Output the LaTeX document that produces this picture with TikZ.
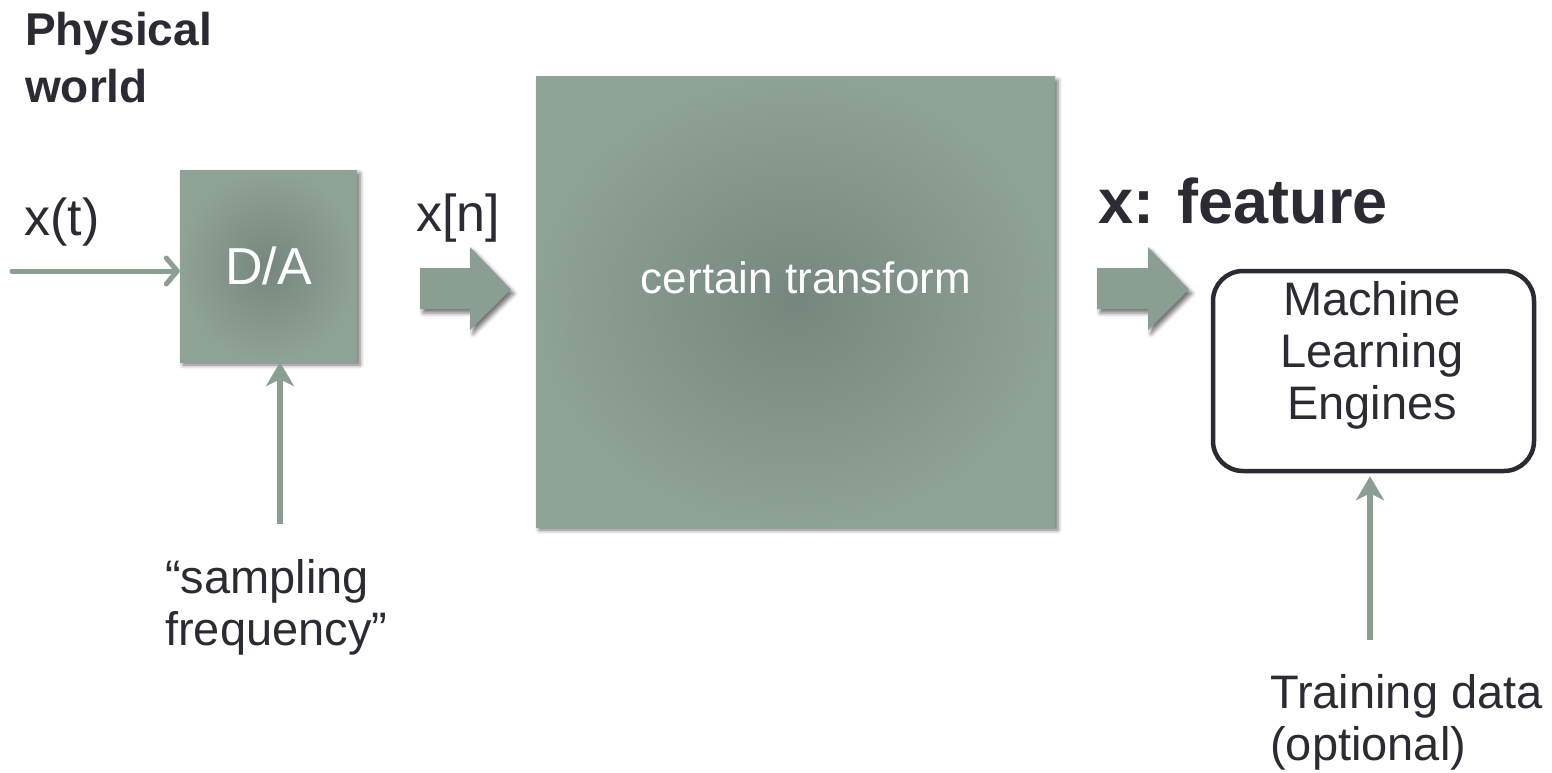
\documentclass[tikz,border=0pt]{standalone}
\usepackage{fontspec}
\setmainfont{Liberation Sans}
\usetikzlibrary{arrows.meta,shadows.blur}

\definecolor{flowgreen}{RGB}{138,158,145}
\definecolor{boxinner}{RGB}{118,136,125}
\definecolor{boxouter}{RGB}{143,162,150}
\definecolor{inkdark}{RGB}{43,43,51}

\tikzset{
  body/.style={font=\fontsize{47}{52}\selectfont, text=inkdark, inner sep=0pt},
  symbol/.style={font=\fontsize{52}{58}\selectfont, text=inkdark, inner sep=0pt},
  heading/.style={font=\bfseries\fontsize{46}{58}\selectfont, text=inkdark, inner sep=0pt},
  shadedbox/.style={draw=none, shade, inner color=boxinner, outer color=boxouter,
    blur shadow={shadow xshift=3pt, shadow yshift=-3pt, shadow blur radius=4pt, shadow opacity=55},
    text=white, font=\fontsize{52}{58}\selectfont, inner sep=0pt},
  engine/.style={draw=inkdark, line width=4.5pt, rounded corners=30pt, fill=white,
    inner sep=0pt},
  thinflow/.style={draw=flowgreen, line width=5pt, line cap=round,
    -{Straight Barb[length=11pt,width=26pt,line cap=round,line join=round]}},
  upflow/.style={draw=flowgreen, line width=6.5pt,
    -{Stealth[length=24pt,width=28pt,inset=7pt]}},
  blockarrow/.style={fill=flowgreen, draw=none,
    blur shadow={shadow xshift=3pt, shadow yshift=-4pt, shadow blur radius=4pt, shadow opacity=55}},
}

\begin{document}
\begin{tikzpicture}[x=1pt, y=-1pt]
  \useasboundingbox (0,0) rectangle (1552,773);

  % labels
  \node[heading, anchor=base west, align=left] (world) at (25,103) {Physical\\world};
  \node[symbol] (xt) at (62,222) {x(t)};
  \node[symbol] (xn) at (458,218) {x[n]};
  \node[font=\bfseries\fontsize{63}{70}\selectfont, text=inkdark, inner sep=0pt,
        anchor=base west] (feat) at (1098,223) {x: feature};

  % processing blocks
  \node[shadedbox, minimum width=177pt, minimum height=192pt] (da) at (268.5,266) {D/A};
  \node[shadedbox, minimum width=519pt, minimum height=450pt] (tf) at (795.5,302) {};
  \node[font=\fontsize{44}{50}\selectfont, text=white, inner sep=0pt] (tftext) at (806,278) {certain transform};
  \node[engine, minimum width=321pt, minimum height=200pt] (ml) at (1373.5,371) {};
  \node[body, align=center] (mltext) at (1372,355) {Machine\\Learning\\Engines};

  % side inputs
  \node[body, anchor=base west, align=left] (fs) at (165,645) {“sampling\\frequency”};
  \node[body, anchor=base west, align=left] (train) at (1270,760) {Training data\\(optional)};

  % connectors
  \coordinate (src) at (12,271);
  \draw[thinflow] (src) -- (src -| da.west);

  \coordinate (fsin) at (280,524);
  \draw[upflow] (fsin) -- (fsin |- da.south);

  \coordinate (tdin) at (1370,640);
  \draw[upflow] (tdin) -- ([yshift=-3pt]tdin |- ml.south);

  % block arrows between stages
  \draw[blockarrow] (420,268) -- (470,268) -- (470,247) -- (511,289.5)
       -- (470,330) -- (470,309) -- (420,309) -- cycle;
  \draw[blockarrow] (1097,268) -- (1148,268) -- (1148,247) -- (1189,289.5)
       -- (1148,330) -- (1148,309) -- (1097,309) -- cycle;
\end{tikzpicture}
\end{document}
